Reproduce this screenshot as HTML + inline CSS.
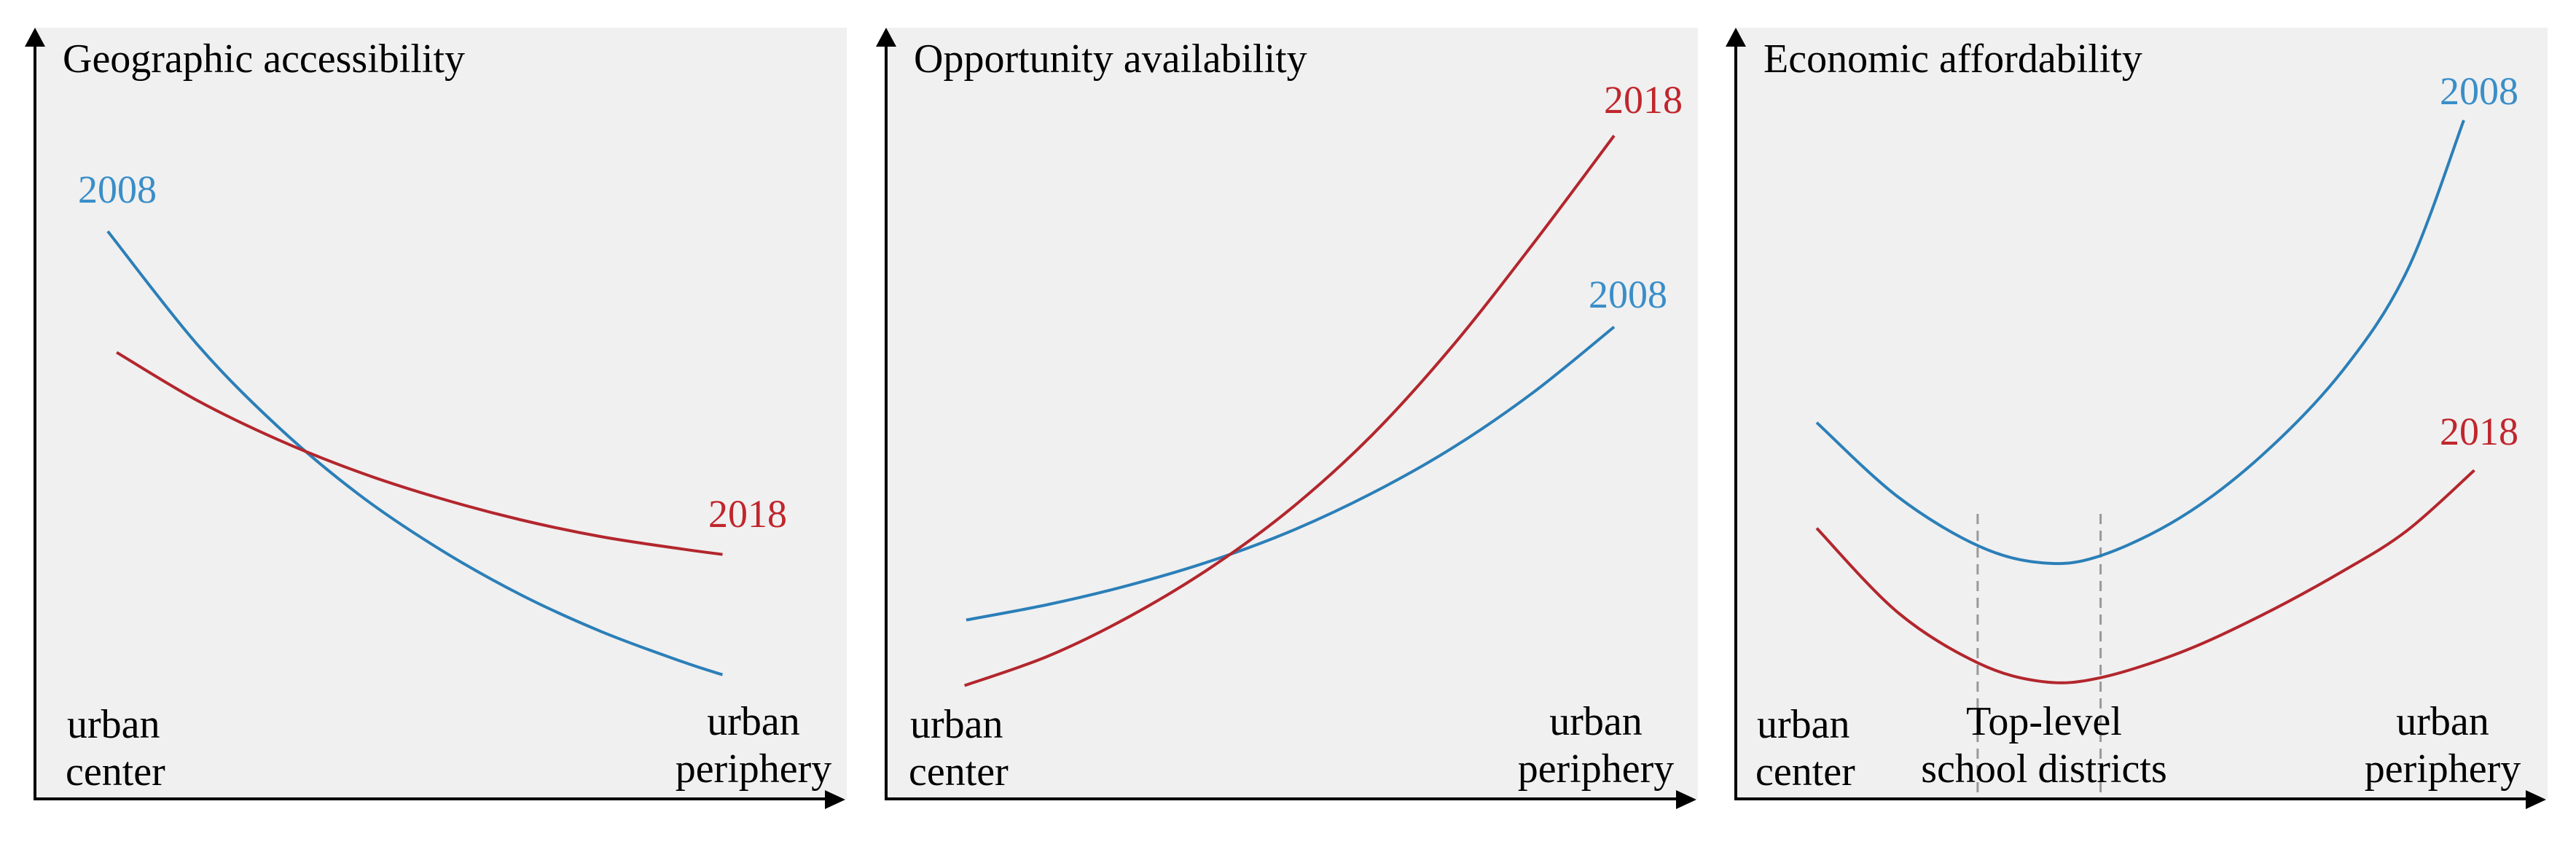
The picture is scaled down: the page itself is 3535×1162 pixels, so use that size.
<!DOCTYPE html>
<html><head><meta charset="utf-8">
<style>
html,body{margin:0;padding:0;background:#fff;}
svg{display:block;}
text{font-family:"Liberation Serif",serif;}
</style></head>
<body>
<svg id="fig" width="3535" height="1162" viewBox="0 0 3535 1162" xmlns="http://www.w3.org/2000/svg">
</svg>
<script>
// ---- data (x: 0..10 along urban center -> periphery, y: 0..10 value) ----
const p1BlueX = [0.90, 2, 3, 4, 5, 6, 7, 8, 8.5];
const p1BlueY = [7.36, 5.90, 4.83, 3.95, 3.24, 2.65, 2.17, 1.78, 1.61];
const p1RedX  = [1.01, 2, 3, 4, 5, 6, 7, 8, 8.5];
const p1RedY  = [5.79, 5.17, 4.66, 4.24, 3.90, 3.62, 3.40, 3.24, 3.17];

const p2RedX  = [0.97, 2, 3, 4, 5, 6, 7, 8, 9];
const p2RedY  = [1.47, 1.85, 2.36, 2.99, 3.76, 4.71, 5.87, 7.20, 8.60];
const p2BlueX = [0.99, 2, 3, 4, 5, 6, 7, 8, 9];
const p2BlueY = [2.32, 2.52, 2.77, 3.08, 3.47, 3.96, 4.55, 5.27, 6.12];

const p3BlueX = [1.0, 2.0, 3.0, 3.8, 4.5, 5.5, 6.5, 7.5, 8.3, 9.0];
const p3BlueY = [4.88, 3.92, 3.28, 3.06, 3.15, 3.65, 4.45, 5.55, 6.85, 8.80];
const p3RedX  = [1.0, 2.0, 3.0, 3.8, 4.5, 5.5, 6.5, 7.5, 8.3, 9.13];
const p3RedY  = [3.51, 2.42, 1.76, 1.52, 1.57, 1.90, 2.38, 2.95, 3.48, 4.26];
const p3DistrictX = [2.99, 4.51];

const titles = ["Geographic accessibility", "Opportunity availability", "Economic affordability"];

const NS = "http://www.w3.org/2000/svg";
const svg = document.getElementById('fig');
const BLUE = "#2b7fb8", RED = "#b3262d", BLUE_T = "#3a8ec8", RED_T = "#c0262d";
const AXY = 1096, TOPY = 38, PW = 1110, PH = 1058;

function el(tag, attrs, parent) {
  const e = document.createElementNS(NS, tag);
  for (const k in attrs) e.setAttribute(k, attrs[k]);
  (parent || svg).appendChild(e);
  return e;
}
function sx(ax, v) { return ax + v * PW / 10; }
function sy(v) { return AXY - v * PH / 10; }
function smoothPath(pts) {
  let d = "M" + pts[0][0] + "," + pts[0][1];
  for (let i = 0; i < pts.length - 1; i++) {
    const p0 = pts[i - 1] || pts[i], p1 = pts[i], p2 = pts[i + 1], p3 = pts[i + 2] || p2;
    const c1x = p1[0] + (p2[0] - p0[0]) / 6, c1y = p1[1] + (p2[1] - p0[1]) / 6;
    const c2x = p2[0] - (p3[0] - p1[0]) / 6, c2y = p2[1] - (p3[1] - p1[1]) / 6;
    d += " C" + c1x + "," + c1y + " " + c2x + "," + c2y + " " + p2[0] + "," + p2[1];
  }
  return d;
}
function curve(g, ax, xs, ys, color, name) {
  const pts = xs.map((x, i) => [sx(ax, x), sy(ys[i])]);
  const p = el('path', {d: smoothPath(pts), fill: 'none', stroke: color, 'stroke-width': 4}, g);
  
  
}
function txt(g, x, y, s, color, anchor, size, name) {
  const t = el('text', {x: x, y: y, fill: color, 'font-size': size, 'text-anchor': anchor || 'start'}, g);
  t.textContent = s;
  
  
  return t;
}
function panel(idx, ax, name) {
  const g = el('g', {});
  
  
  const bg = el('rect', {x: ax, y: TOPY, width: PW + 4, height: AXY - TOPY, fill: '#f0f0f0'}, g);
  
  
  const ya = el('line', {x1: ax, y1: AXY + 2, x2: ax, y2: TOPY + 20, stroke: '#000', 'stroke-width': 4}, g);
  
  
  const yh = el('polygon', {points: (ax) + ',' + TOPY + ' ' + (ax - 14) + ',' + (TOPY + 26) + ' ' + (ax + 14) + ',' + (TOPY + 26), fill: '#000'}, g);
  
  
  const tip = ax + PW + 2;
  const xa = el('line', {x1: ax - 2, y1: AXY, x2: tip - 20, y2: AXY, stroke: '#000', 'stroke-width': 4}, g);
  
  
  const xh = el('polygon', {points: tip + ',' + (AXY + 1) + ' ' + (tip - 28) + ',' + (AXY - 12) + ' ' + (tip - 28) + ',' + (AXY + 14), fill: '#000'}, g);
  
  
  txt(g, ax + 38, 99, titles[idx], '#000', 'start', 56, 'panel-title');
  return g;
}

const A1 = 48, A2 = 1216, A3 = 2382;
// Panel 1
let g1 = panel(0, A1, 'panel-geographic-accessibility');
curve(g1, A1, p1BlueX, p1BlueY, BLUE, 'line-2008');
curve(g1, A1, p1RedX, p1RedY, RED, 'line-2018');
txt(g1, A1 + 59, 278, '2008', BLUE_T, 'start', 54, 'label-2008');
txt(g1, A1 + 924, 723, '2018', RED_T, 'start', 54, 'label-2018');
txt(g1, A1 + 44, 1012, 'urban', '#000', 'start', 56, 'x-label-urban-center');
txt(g1, A1 + 42, 1077, 'center', '#000', 'start', 56, 'x-label-urban-center-2');
txt(g1, A1 + 986, 1008, 'urban', '#000', 'middle', 56, 'x-label-urban-periphery');
txt(g1, A1 + 986, 1073, 'periphery', '#000', 'middle', 56, 'x-label-urban-periphery-2');

// Panel 2
let g2 = panel(1, A2, 'panel-opportunity-availability');
curve(g2, A2, p2BlueX, p2BlueY, BLUE, 'line-2008');
curve(g2, A2, p2RedX, p2RedY, RED, 'line-2018');
txt(g2, A2 + 985, 155, '2018', RED_T, 'start', 54, 'label-2018');
txt(g2, A2 + 964, 422, '2008', BLUE_T, 'start', 54, 'label-2008');
txt(g2, A2 + 33, 1012, 'urban', '#000', 'start', 56, 'x-label-urban-center');
txt(g2, A2 + 31, 1077, 'center', '#000', 'start', 56, 'x-label-urban-center-2');
txt(g2, A2 + 974, 1008, 'urban', '#000', 'middle', 56, 'x-label-urban-periphery');
txt(g2, A2 + 974, 1073, 'periphery', '#000', 'middle', 56, 'x-label-urban-periphery-2');

// Panel 3
let g3 = panel(2, A3, 'panel-economic-affordability');
p3DistrictX.forEach(function (v) {
  const l = el('line', {x1: sx(A3, v), y1: 705, x2: sx(A3, v), y2: AXY - 2, stroke: '#999', 'stroke-width': 3, 'stroke-dasharray': '14,9'}, g3);
  
  
});
curve(g3, A3, p3BlueX, p3BlueY, BLUE, 'line-2008');
curve(g3, A3, p3RedX, p3RedY, RED, 'line-2018');
txt(g3, A3 + 966, 143, '2008', BLUE_T, 'start', 54, 'label-2008');
txt(g3, A3 + 966, 610, '2018', RED_T, 'start', 54, 'label-2018');
txt(g3, A3 + 29, 1012, 'urban', '#000', 'start', 56, 'x-label-urban-center');
txt(g3, A3 + 27, 1077, 'center', '#000', 'start', 56, 'x-label-urban-center-2');
txt(g3, A3 + 423, 1008, 'Top-level', '#000', 'middle', 56, 'label-top-level');
txt(g3, A3 + 423, 1073, 'school districts', '#000', 'middle', 56, 'label-school-districts');
txt(g3, A3 + 970, 1008, 'urban', '#000', 'middle', 56, 'x-label-urban-periphery');
txt(g3, A3 + 970, 1073, 'periphery', '#000', 'middle', 56, 'x-label-urban-periphery-2');
</script>
</body></html>
